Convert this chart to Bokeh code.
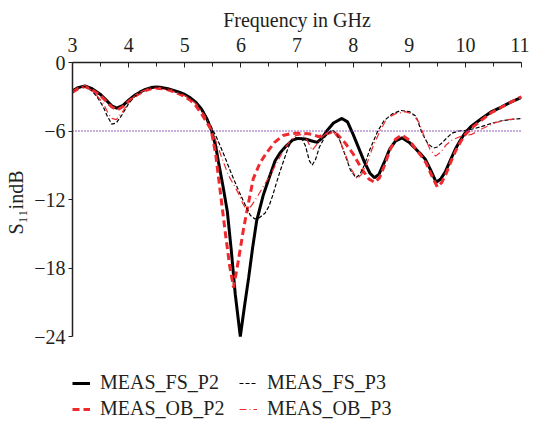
from bokeh.plotting import figure
from bokeh.models import (Range1d, FixedTicker, Span, Legend, LegendItem)
from bokeh.embed import file_html
from bokeh.resources import INLINE

# ---------------- data ----------------
fs_p2_x = [3.0, 3.1, 3.22, 3.35, 3.5, 3.6, 3.7, 3.79, 3.9, 4.0, 4.1, 4.2, 4.3, 4.4, 4.5, 4.6, 4.7, 4.8,
           4.9, 5.0, 5.1, 5.2, 5.3, 5.4, 5.48, 5.55, 5.6, 5.68, 5.76, 5.83, 5.9, 5.99, 6.06, 6.14, 6.21,
           6.28, 6.4, 6.51, 6.61, 6.7, 6.81, 6.92, 7.02, 7.15, 7.25, 7.36, 7.45, 7.53, 7.65, 7.8, 7.9,
           8.0, 8.1, 8.2, 8.3, 8.38, 8.46, 8.55, 8.65, 8.75, 8.87, 9.0, 9.12, 9.2, 9.29, 9.38, 9.48,
           9.56, 9.64, 9.73, 9.82, 9.9, 9.99, 10.1, 10.29, 10.45, 10.64, 10.8, 11.0]
fs_p2_y = [-2.5, -2.2, -2.05, -2.3, -2.8, -3.3, -3.8, -4.0, -3.75, -3.3, -2.9, -2.6, -2.35, -2.2, -2.15,
           -2.2, -2.3, -2.45, -2.6, -2.8, -3.1, -3.5, -4.1, -5.0, -6.0, -7.3, -8.7, -10.8, -13.1, -16.5,
           -20.3, -24.0, -21.5, -18.8, -16.2, -13.9, -11.6, -10.0, -8.6, -7.9, -7.3, -6.8, -6.65, -6.7,
           -6.85, -7.0, -6.6, -6.0, -5.3, -4.9, -5.2, -6.3, -7.5, -8.7, -9.7, -10.1, -9.8, -8.8, -7.6,
           -6.9, -6.6, -7.0, -7.6, -8.0, -8.5, -9.4, -10.5, -10.2, -9.6, -8.6, -7.6, -6.9, -6.2, -5.6,
           -4.9, -4.35, -3.9, -3.5, -3.05]

fs_p3_x = [3.0, 3.1, 3.22, 3.35, 3.45, 3.55, 3.62, 3.7, 3.78, 3.88, 4.0, 4.1, 4.2, 4.3, 4.4, 4.5, 4.6,
           4.7, 4.8, 4.9, 5.0, 5.1, 5.2, 5.35, 5.45, 5.58, 5.7, 5.82, 5.94, 6.05, 6.17, 6.25, 6.33, 6.43,
           6.5, 6.57, 6.63, 6.7, 6.77, 6.84, 6.9, 6.97, 7.08, 7.15, 7.22, 7.27, 7.33, 7.4, 7.5, 7.62,
           7.68, 7.76, 7.85, 7.95, 8.05, 8.12, 8.2, 8.3, 8.44, 8.55, 8.7, 8.85, 9.0, 9.12, 9.23, 9.33,
           9.43, 9.5, 9.58, 9.67, 9.76, 9.88, 10.0, 10.15, 10.3, 10.45, 10.65, 10.8, 11.0]
fs_p3_y = [-2.5, -2.2, -2.1, -2.5, -3.1, -3.9, -4.7, -5.4, -5.3, -4.6, -3.6, -3.0, -2.6, -2.35, -2.25,
           -2.2, -2.25, -2.35, -2.5, -2.65, -2.85, -3.15, -3.5, -4.4, -5.4, -6.7, -8.1, -9.6, -11.0,
           -12.2, -13.4, -13.7, -13.6, -13.2, -12.6, -11.6, -10.6, -9.5, -8.5, -7.5, -6.9, -6.6, -6.6,
           -7.3, -8.6, -9.0, -8.5, -7.4, -6.5, -5.9, -6.1, -6.8, -8.0, -9.4, -10.1, -9.8, -9.0, -7.6,
           -6.0, -5.1, -4.5, -4.2, -4.3, -4.7, -6.2, -7.1, -7.5, -7.4, -7.05, -6.6, -6.2, -6.0, -5.95,
           -5.8, -5.6, -5.35, -5.1, -5.0, -4.9]

ob_p2_x = [3.0, 3.1, 3.22, 3.35, 3.5, 3.6, 3.7, 3.8, 3.9, 4.0, 4.1, 4.2, 4.3, 4.4, 4.5, 4.6, 4.7, 4.8,
           4.9, 5.0, 5.1, 5.2, 5.3, 5.4, 5.47, 5.55, 5.64, 5.72, 5.8, 5.87, 5.95, 6.05, 6.14, 6.22, 6.34,
           6.46, 6.6, 6.75, 6.87, 6.98, 7.1, 7.2, 7.27, 7.39, 7.5, 7.62, 7.72, 7.85, 8.0, 8.15, 8.28,
           8.38, 8.47, 8.56, 8.66, 8.76, 8.87, 9.0, 9.12, 9.2, 9.3, 9.4, 9.5, 9.58, 9.66, 9.75, 9.83,
           9.92, 10.0, 10.12, 10.3, 10.46, 10.65, 10.8, 11.0]
ob_p2_y = [-2.6, -2.3, -2.1, -2.4, -2.9, -3.4, -3.9, -4.15, -3.85, -3.4, -3.0, -2.7, -2.45, -2.3, -2.25,
           -2.3, -2.4, -2.55, -2.75, -3.0, -3.3, -3.8, -4.5, -5.3, -5.9, -8.0, -11.6, -14.8, -17.8, -19.7,
           -17.5, -14.5, -12.2, -10.2, -8.8, -7.9, -7.0, -6.4, -6.25, -6.2, -6.2, -6.25, -6.3, -6.5,
           -6.3, -6.1, -6.3, -7.0, -8.0, -9.3, -10.2, -10.5, -10.1, -9.0, -7.6, -6.7, -6.35, -6.8, -7.6,
           -8.1, -8.8, -9.9, -10.9, -10.5, -9.7, -8.6, -7.7, -6.9, -6.3, -5.7, -5.0, -4.4, -3.9, -3.5,
           -3.0]

ob_p3_x = [3.0, 3.1, 3.22, 3.35, 3.45, 3.55, 3.62, 3.7, 3.78, 3.88, 4.0, 4.1, 4.2, 4.3, 4.4, 4.5, 4.6,
           4.7, 4.8, 4.9, 5.0, 5.1, 5.2, 5.35, 5.45, 5.55, 5.65, 5.78, 5.95, 6.03, 6.1, 6.18, 6.3, 6.42,
           6.54, 6.66, 6.77, 6.89, 6.98, 7.1, 7.18, 7.27, 7.35, 7.45, 7.55, 7.65, 7.75, 7.85, 7.95, 8.07,
           8.15, 8.25, 8.35, 8.48, 8.6, 8.75, 8.93, 9.05, 9.17, 9.27, 9.37, 9.47, 9.57, 9.66, 9.76, 9.9,
           10.11, 10.3, 10.52, 10.75, 11.0]
ob_p3_y = [-2.5, -2.2, -2.1, -2.45, -3.0, -3.6, -4.3, -4.9, -5.0, -4.4, -3.5, -2.95, -2.6, -2.4, -2.3,
           -2.25, -2.3, -2.4, -2.55, -2.7, -2.9, -3.2, -3.6, -4.6, -5.5, -6.8, -8.2, -9.9, -11.4, -12.3,
           -12.9, -12.6, -11.7, -10.7, -9.7, -8.6, -7.6, -6.8, -6.4, -6.3, -6.8, -7.7, -7.2, -6.5, -6.1,
           -6.1, -6.7, -7.9, -9.2, -10.2, -9.8, -8.8, -7.4, -6.0, -4.9, -4.5, -4.3, -4.5, -5.2, -6.5,
           -7.6, -8.2, -7.8, -7.2, -6.8, -6.5, -6.3, -5.8, -5.3, -5.0, -4.9]

x_ticks = [3, 4, 5, 6, 7, 8, 9, 10, 11]
x_minor = [3.5, 4.5, 5.5, 6.5, 7.5, 8.5, 9.5, 10.5]
y_ticks = [0, -6, -12, -18, -24]
y_tick_labels = ["0", "\u22126", "\u221212", "\u221218", "\u221224"]
ref_level = -6

# ---------------- figure ----------------
FONT = "Liberation Serif"
FS = "20px"
H = 422
FRAME_TOP, FRAME_AXIS_BOTTOM = 62, 336          # 0 dB and -24 dB rows
px_per_db = (FRAME_AXIS_BOTTOM - FRAME_TOP) / 24.0
y_low = -24 - (H - FRAME_AXIS_BOTTOM) / px_per_db  # frame extends below the axis to host the legend

p = figure(width=529, height=H, output_backend="svg", toolbar_location=None,
           x_range=Range1d(3, 11), y_range=Range1d(y_low, 0), x_axis_location="above",
           min_border_left=72, min_border_right=8, min_border_top=FRAME_TOP, min_border_bottom=0)
p.outline_line_color = None
p.grid.visible = False
p.background_fill_color = "white"
p.border_fill_color = "white"

xa = p.xaxis[0]
xa.ticker = FixedTicker(ticks=x_ticks, minor_ticks=x_minor)
xa.axis_label = "Frequency in GHz"
xa.axis_label_text_font = FONT
xa.axis_label_text_font_size = FS
xa.axis_label_text_font_style = "normal"
xa.axis_label_text_color = "#231f20"
xa.axis_label_standoff = 4
xa.major_label_text_font = FONT
xa.major_label_text_font_size = FS
xa.major_label_text_color = "#231f20"
xa.major_label_standoff = 11
xa.major_tick_in = 5
xa.major_tick_out = 0
xa.minor_tick_in = 4
xa.minor_tick_out = 0
xa.axis_line_width = 1.5
xa.axis_line_color = "#231f20"
xa.major_tick_line_color = "#231f20"
xa.minor_tick_line_color = "#231f20"

ya = p.yaxis[0]
ya.bounds = (-24, 0)
ya.ticker = FixedTicker(ticks=y_ticks, minor_ticks=[])
ya.major_label_overrides = {t: s for t, s in zip(y_ticks, y_tick_labels)}
# leading no-break spaces shift the rotated label up so it centres on the drawn axis (-24..0)
ya.axis_label = "\u00a0" * 16 + "S\u2081\u2081indB"
ya.axis_label_text_font = FONT
ya.axis_label_text_font_size = FS
ya.axis_label_text_font_style = "normal"
ya.axis_label_text_color = "#231f20"
ya.axis_label_standoff = 4
ya.major_label_text_font = FONT
ya.major_label_text_font_size = FS
ya.major_label_text_color = "#231f20"
ya.major_label_standoff = 3
ya.major_tick_in = 0
ya.major_tick_out = 4
ya.minor_tick_line_color = None
ya.axis_line_width = 1.5
ya.axis_line_color = "#231f20"
ya.major_tick_line_color = "#231f20"

p.add_layout(Span(location=ref_level, dimension="width", line_color="#6a2ca6",
                  line_dash="1 2", line_width=1.3))

RED = "#ee2a2e"
r_fs_p2 = p.line(fs_p2_x, fs_p2_y, line_color="black", line_width=3)
r_ob_p2 = p.line(ob_p2_x, ob_p2_y, line_color=RED, line_width=3, line_dash="7 4")
r_fs_p3 = p.line(fs_p3_x, fs_p3_y, line_color="black", line_width=1.2, line_dash="4 2")
r_ob_p3 = p.line(ob_p3_x, ob_p3_y, line_color=RED, line_width=1.2, line_dash="7 3 1 3")

legend = Legend(items=[
    LegendItem(label="MEAS_FS_P2", renderers=[r_fs_p2]),
    LegendItem(label="MEAS_FS_P3", renderers=[r_fs_p3]),
    LegendItem(label="MEAS_OB_P2", renderers=[r_ob_p2]),
    LegendItem(label="MEAS_OB_P3", renderers=[r_ob_p3]),
], orientation="horizontal", ncols=2)
legend.location = (0, 2)
legend.background_fill_alpha = 0
legend.border_line_color = None
legend.label_text_font = FONT
legend.label_text_font_size = FS
legend.label_text_color = "#231f20"
legend.glyph_width = 18
legend.glyph_height = 22
legend.label_standoff = 10
legend.label_width = 136
legend.spacing = 3
legend.padding = 0
legend.margin = 0
p.add_layout(legend, "center")

open("out.html", "w").write(file_html(p, INLINE))
